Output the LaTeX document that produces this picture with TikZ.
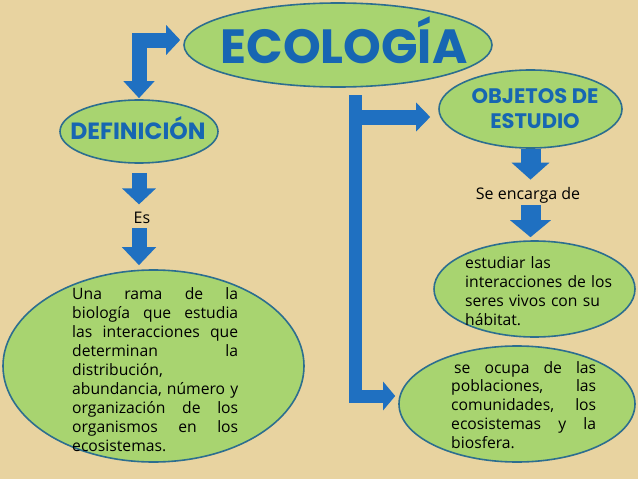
\documentclass[tikz,border=0pt]{standalone}
\usepackage{fontspec}
\setmainfont{Open Sans}
\newfontfamily\headfont{Poppins}
\usetikzlibrary{shapes.geometric,arrows.meta}
\definecolor{bgc}{HTML}{E8D3A0}
\definecolor{ellfill}{HTML}{A8D470}
\definecolor{elldraw}{HTML}{2C6E8F}
\definecolor{arrowblue}{HTML}{1F70C1}
\definecolor{titleblue}{HTML}{1766B2}
\newcommand\jl[2]{\leavevmode\hbox to #1{#2}}
\begin{document}
\begin{tikzpicture}[x=1pt,y=-1pt,
  oval/.style={ellipse,draw=elldraw,fill=ellfill,line width=1.6pt,inner sep=0pt},
  headtext/.style={text=titleblue,inner sep=0pt,font=\headfont\bfseries},
  bodytext/.style={text=black,inner sep=0pt,align=left,font=\fontsize{15.7}{19.1}\selectfont},
  labeltext/.style={text=black,inner sep=0pt,font=\fontsize{16}{19}\selectfont},
  fat/.style={draw=arrowblue,line width=#1,line cap=butt,line join=miter}]
\fill[bgc] (0,0) rectangle (638,479);
\useasboundingbox (0,0) rectangle (638,479);

% ellipses
\node[oval,minimum width=308pt,minimum height=84pt] (eco) at (338,45) {};
\node[oval,minimum width=158pt,minimum height=63pt] (def) at (139,131.5) {};
\node[oval,minimum width=183pt,minimum height=78pt] (obj) at (530.5,109) {};
\node[oval,minimum width=301pt,minimum height=192pt] (rama) at (153.5,366) {};
\node[oval,minimum width=201pt,minimum height=96pt] (estu) at (534.5,289) {};
\node[oval,minimum width=236pt,minimum height=116pt] (ocupa) at (517,404) {};

% headings
\node[headtext,anchor=base,font=\headfont\bfseries\fontsize{48}{48}\selectfont] (ecot) at (344,63) {ECOLOGÍA};
\node[headtext,anchor=base,font=\headfont\bfseries\fontsize{23.5}{23.5}\selectfont] (deft) at (138,139) {DEFINICIÓN};
\node[headtext,anchor=base,align=center,font=\headfont\bfseries\fontsize{21}{25}\selectfont] (objt) at (535,128) {OBJETOS DE\\ESTUDIO};

% labels
\node[labeltext,anchor=base] (es) at (142,223) {Es};
\node[labeltext,anchor=base] (se) at (528,199) {Se encarga de};

% body texts
\node[bodytext,text width=166pt,anchor=base west] (ramat) at (72,299)
  {\jl{166pt}{Una\hfill rama\hfill de\hfill la}\\
   \jl{166pt}{biología\hfill que\hfill estudia}\\
   \jl{166pt}{las\hfill interacciones\hfill que}\\
   \jl{166pt}{determinan\hfill la}\\
   distribución,\\
   \jl{166pt}{abundancia,\hfill número\hfill y}\\
   \jl{166pt}{organización\hfill de\hfill los}\\
   \jl{166pt}{organismos\hfill en\hfill los}\\
   ecosistemas.};
\node[bodytext,text width=155pt,anchor=base west] (estut) at (465,268)
  {estudiar las\\
   interacciones de los\\
   seres vivos con su\\
   hábitat.};
\node[bodytext,text width=145pt,anchor=base west,font=\fontsize{15.7}{18.75}\selectfont] (ocupat) at (451,373)
  {\jl{145pt}{\hspace{3pt}se\hfill ocupa\hfill de\hfill las}\\
   \jl{145pt}{poblaciones,\hfill las}\\
   \jl{145pt}{comunidades,\hfill los}\\
   \jl{145pt}{ecosistemas\hfill y\hfill la}\\
   biosfera.};

% left bracket arrow
\draw[fat=15pt,{Triangle[width=30pt,length=17pt]}-{Triangle[width=29pt,length=14pt]},
      shorten <=1pt,shorten >=3pt] (def.north) |- ([yshift=5pt]eco.west);

% left down arrows
\draw[fat=15pt,-{Triangle[width=33pt,length=16pt]},shorten <=9pt,shorten >=7pt]
  (def.south) -- (def.south |- es.north);
\draw[fat=15pt,-{Triangle[width=33pt,length=18pt]},shorten <=5pt,shorten >=4pt]
  (def.south |- es.south) -- (def.south |- rama.north);

% right down arrows
\draw[fat=20pt,-{Triangle[width=37pt,length=17pt]},shorten >=7pt]
  (obj.south) -- (obj.south |- se.north);
\draw[fat=20pt,-{Triangle[width=40pt,length=17pt]},shorten <=2pt,shorten >=3pt]
  (obj.south |- se.south) -- (obj.south |- estu.north);

% right trunk
\coordinate (trunk) at (355,95);
\coordinate (branch) at (355,117);
\draw[fat=13pt,-{Triangle[width=28pt,length=12pt]},shorten >=3pt]
  (trunk) |- ([yshift=8pt]ocupa.west);
\draw[fat=15pt,-{Triangle[width=28pt,length=14pt]},shorten >=8pt]
  (branch) -- (branch -| obj.west);
\end{tikzpicture}
\end{document}
